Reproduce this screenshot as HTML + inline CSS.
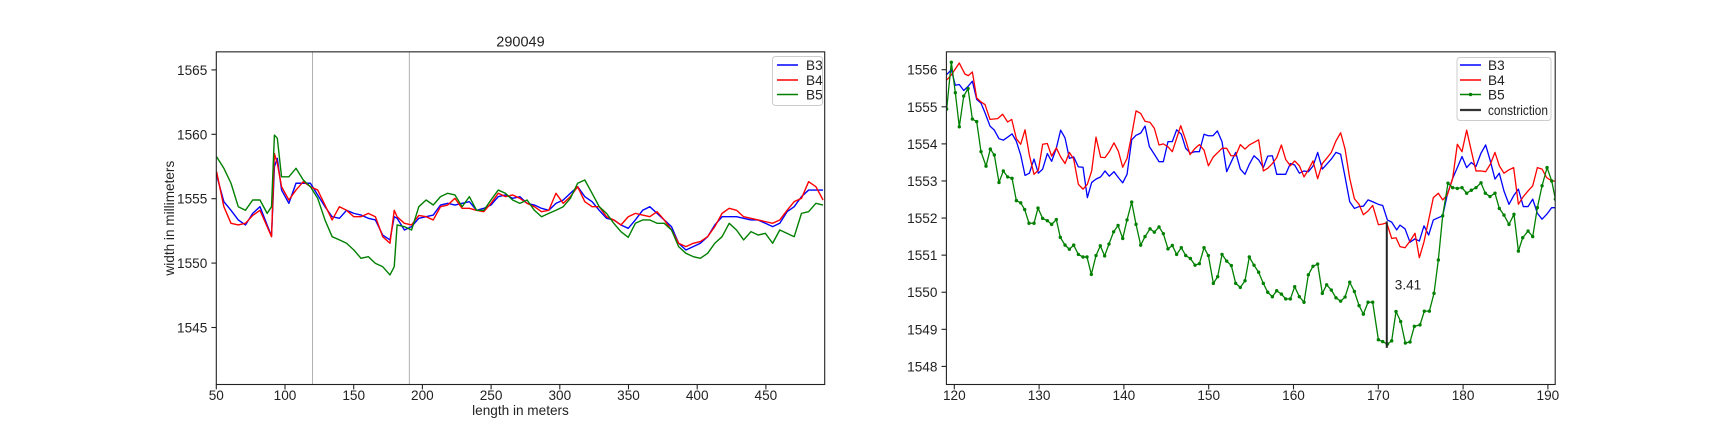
<!DOCTYPE html>
<html>
<head>
<meta charset="utf-8">
<style>
html,body{margin:0;padding:0;background:#fff;}
svg{display:block;}
text{font-family:"Liberation Sans","DejaVu Sans",sans-serif;fill:#222;}
</style>
</head>
<body>
<svg id="fig" width="1728" height="432" viewBox="0 0 1728 432" xmlns="http://www.w3.org/2000/svg">
<rect x="0" y="0" width="1728" height="432" fill="#fff"/>
</svg>
<script>
// ---------- LEFT CHART DATA ----------
const leftX = [50.2,55.5,60.7,66.0,71.2,76.5,81.8,87.0,90.2,92.3,94.4,97.5,102.8,108.0,113.3,118.5,123.8,129.1,134.3,139.6,144.8,150.1,155.3,160.6,165.8,171.1,176.4,179.5,181.6,186.9,192.1,197.4,202.7,207.9,213.2,218.4,223.7,228.9,234.2,239.4,244.7,249.9,255.2,260.4,265.7,270.9,276.2,281.5,286.7,292.0,297.2,302.5,307.7,313.0,318.2,323.5,328.7,334.0,339.3,344.5,349.8,355.0,360.3,365.5,370.8,376.0,381.3,386.5,391.8,397.1,402.3,407.6,412.8,418.1,423.3,428.6,433.8,439.1,444.3,449.6,454.9,460.1,465.4,470.6,475.9,481.1,486.4,491.6];
const leftB3 = [1556.84,1554.77,1554.1,1553.35,1552.96,1553.86,1554.38,1552.96,1552.1,1557.49,1558.13,1555.67,1554.64,1556.2,1556.2,1556.2,1555.29,1554.38,1553.6,1553.48,1554.1,1553.86,1553.73,1553.48,1553.35,1552.18,1551.8,1553.6,1553.48,1552.57,1552.83,1553.48,1553.6,1553.73,1554.51,1554.64,1554.51,1554.64,1554.77,1554.1,1554.25,1554.51,1555.16,1555.29,1555.03,1555.16,1554.64,1554.51,1554.25,1554.1,1554.64,1554.9,1555.42,1555.93,1555.16,1554.77,1554.1,1553.48,1553.35,1552.96,1552.7,1553.35,1554.1,1554.38,1553.86,1553.35,1552.83,1551.54,1551.02,1551.28,1551.54,1552.05,1552.96,1553.6,1553.6,1553.6,1553.48,1553.35,1553.35,1553.09,1552.83,1553.09,1553.99,1554.38,1555.16,1555.67,1555.67,1555.67];
const leftB4 = [1557.1,1554.38,1553.09,1552.96,1553.09,1553.7,1554.1,1552.83,1552.05,1558.5,1557.75,1555.93,1554.9,1555.67,1556.32,1555.93,1555.67,1554.51,1553.35,1554.38,1554.1,1553.6,1553.6,1553.86,1553.6,1552.05,1551.54,1554.1,1553.6,1553.09,1552.96,1553.7,1553.6,1553.35,1554.38,1554.51,1555.03,1554.25,1554.25,1554.1,1553.99,1554.64,1555.42,1555.16,1555.29,1555.03,1554.64,1554.38,1553.99,1554.1,1555.42,1554.64,1555.16,1555.93,1554.77,1554.38,1554.38,1553.6,1553.35,1552.96,1553.6,1553.86,1553.73,1553.6,1553.99,1553.35,1552.57,1551.54,1551.28,1551.54,1551.67,1552.05,1552.83,1553.86,1554.25,1554.1,1553.6,1553.48,1553.35,1553.22,1553.09,1553.35,1554.1,1554.77,1555.03,1556.32,1555.93,1554.9];
const leftB5 = [1558.26,1557.36,1556.2,1554.38,1554.1,1554.9,1554.9,1553.86,1554.38,1559.94,1559.69,1556.7,1556.7,1557.36,1556.45,1555.93,1555.03,1553.35,1552.05,1551.8,1551.54,1551.02,1550.37,1550.5,1549.98,1549.72,1549.08,1549.72,1552.96,1552.83,1552.57,1554.38,1554.9,1554.51,1555.16,1555.42,1555.29,1554.38,1555.16,1554.1,1554.1,1554.9,1555.67,1555.42,1554.9,1554.64,1554.9,1554.1,1553.6,1553.86,1554.1,1554.38,1555.03,1556.2,1556.45,1555.42,1554.38,1553.86,1553.09,1552.44,1552.0,1553.09,1553.35,1553.35,1553.09,1553.09,1552.57,1551.28,1550.76,1550.5,1550.37,1550.76,1551.54,1552.05,1553.09,1552.57,1551.8,1552.44,1552.18,1552.31,1551.54,1552.57,1552.31,1552.05,1553.86,1553.99,1554.64,1554.51];
const leftXTicks = [50,100,150,200,250,300,350,400,450];
const leftYTicks = [1545,1550,1555,1560,1565];
const leftVLines = [120,190.5];

// ---------- RIGHT CHART DATA ----------
const rightB3X = [119.10,119.65,120.12,120.59,121.11,121.62,122.13,122.64,123.15,123.62,124.21,124.72,125.27,125.78,126.29,126.81,127.32,127.83,128.34,128.85,129.40,129.91,130.42,130.97,131.48,132.03,132.54,133.06,133.57,134.08,134.63,135.18,135.69,136.20,136.71,137.26,137.77,138.28,138.83,139.35,139.86,140.37,140.92,141.43,141.98,
142.49,143.00,143.59,144.14,144.65,145.20,145.71,146.22,146.77,147.29,147.84,148.39,148.90,149.45,149.96,150.51,151.02,151.57,152.12,152.67,153.18,153.73,154.28,154.79,155.34,155.89,156.44,156.96,157.51,158.02,158.57,159.08,159.63,160.14,160.69,161.24,161.75,162.30,162.85,163.40,163.91,164.46,165.01,165.56,166.08,166.63,167.18,167.73,168.24,168.79,169.34,170.01,170.52,171.07,171.58,172.17,
172.56,173.15,173.74,174.33,174.84,175.39,175.94,176.49,177.08,177.59,178.14,178.77,179.32,179.87,180.42,180.97,181.52,182.11,182.66,183.21,183.76,184.27,184.82,185.41,185.96,186.52,187.10,187.66,188.21,188.76,189.31,189.86,190.45,190.88];
const rightB3 = [1555.87,1556.0,1555.58,1555.6,1555.44,1555.55,1555.69,1555.2,1555.1,1554.84,1554.48,1554.37,1554.14,1554.1,1554.18,1554.27,1554.07,1553.70,1553.15,1553.21,1553.59,1553.21,1553.32,1553.74,1553.53,1553.88,1554.37,1554.16,1553.61,1553.65,1553.38,1553.37,1552.55,1552.96,1553.05,1553.11,1553.27,1553.13,1553.25,1553.09,1552.95,1553.18,1554.11,1554.23,1554.29,
1554.48,1553.93,1553.72,1553.52,1553.52,1554.06,1554.06,1554.38,1554.26,1553.88,1553.75,1553.79,1553.79,1554.26,1554.22,1554.22,1554.35,1554.06,1553.25,1553.52,1553.77,1553.32,1553.18,1553.45,1553.68,1553.57,1553.36,1553.67,1553.68,1553.18,1553.18,1553.18,1553.47,1553.43,1553.21,1553.27,1553.25,1553.4,1553.77,1553.32,1553.45,1553.59,1553.77,1553.72,1553.11,1552.44,1552.26,1552.31,1552.32,1552.49,1552.44,1552.37,1552.34,1551.95,1551.89,1551.68,
1551.81,1551.71,1551.35,1551.44,1551.38,1551.79,1551.54,1551.95,1552.01,1552.06,1552.64,1553.07,1553.36,1553.66,1553.36,1553.5,1553.39,1553.75,1553.97,1553.54,1553.05,1553.21,1552.73,1552.37,1552.6,1552.78,1552.31,1552.31,1552.51,1552.13,1551.97,1552.1,1552.28,1552.28];
const rightB4X = [119.10,119.65,120.59,121.26,121.66,122.13,122.64,123.15,123.62,124.21,125.11,125.70,126.29,126.77,127.32,127.83,128.34,128.85,129.40,129.91,130.42,130.97,131.48,132.03,132.54,133.06,133.57,134.08,134.63,135.18,135.69,136.20,136.71,137.26,137.77,138.28,138.83,139.35,139.86,140.37,140.92,141.43,141.98,
142.49,143.08,143.59,144.14,144.65,145.20,145.71,146.70,147.29,147.80,148.39,148.90,149.45,149.96,150.55,151.57,152.12,152.63,153.18,153.73,154.28,154.79,155.34,155.89,156.44,156.96,157.51,158.02,158.57,159.08,159.63,160.14,160.69,161.24,161.75,162.30,162.85,163.40,163.91,164.46,165.01,165.56,166.08,166.63,167.18,167.73,168.24,168.79,169.34,170.01,170.52,170.99,171.58,172.09,
172.56,173.15,173.74,174.33,174.84,175.39,175.94,176.49,177.08,177.59,178.14,178.77,179.32,179.87,180.42,180.97,181.52,182.11,182.66,183.21,183.76,184.27,184.82,185.41,185.96,186.52,187.10,187.66,188.21,188.76,189.31,189.86,190.45,190.88];
const rightB4 = [1555.72,1555.86,1556.18,1555.88,1555.84,1555.94,1555.24,1555.13,1555.06,1554.66,1554.68,1554.8,1554.59,1554.66,1554.14,1553.99,1554.38,1553.70,1553.18,1553.29,1553.99,1554.01,1553.67,1553.89,1553.65,1553.47,1553.77,1553.59,1552.91,1552.78,1552.91,1553.27,1554.18,1553.64,1553.63,1553.79,1554.03,1553.80,1553.37,1553.61,1554.24,1554.89,1554.82,
1554.61,1554.58,1554.42,1553.97,1554.0,1553.92,1553.79,1554.49,1554.1,1553.71,1553.88,1553.98,1553.83,1553.41,1553.65,1553.88,1553.88,1553.68,1553.68,1553.98,1553.86,1553.97,1554.04,1554.11,1553.27,1553.34,1553.47,1553.63,1553.97,1553.58,1553.41,1553.54,1553.41,1553.11,1553.3,1553.54,1553.06,1553.47,1553.61,1553.77,1554.08,1554.3,1553.86,1553.07,1552.52,1552.37,1552.09,1552.19,1552.34,1551.82,1551.84,1551.87,1551.45,1551.47,
1551.23,1551.2,1551.38,1551.59,1550.93,1551.36,1551.95,1552.55,1552.67,1552.49,1552.62,1553.07,1553.99,1553.79,1554.37,1553.81,1553.27,1553.27,1553.25,1553.45,1553.77,1553.41,1553.21,1553.3,1553.36,1552.37,1552.58,1552.73,1552.87,1553.36,1553.32,1553.09,1553.0,1553.0];
const rightB5X = [119.10,119.65,120.12,120.59,121.11,121.62,122.13,122.64,123.15,123.74,124.25,124.72,125.27,125.78,126.29,126.81,127.32,127.83,128.30,128.81,129.40,129.87,130.42,130.97,131.48,132.03,132.50,133.06,133.57,134.08,134.63,135.18,135.65,136.16,136.71,137.22,137.73,138.24,138.79,139.31,139.86,140.37,140.92,141.43,141.98,
142.49,143.08,143.59,144.14,144.65,145.20,145.71,146.22,146.77,147.29,147.84,148.39,148.90,149.45,149.96,150.55,151.06,151.57,152.12,152.67,153.18,153.73,154.28,154.79,155.34,155.89,156.44,156.96,157.51,158.02,158.57,159.08,159.63,160.14,160.69,161.24,161.75,162.30,162.85,163.40,163.91,164.46,165.01,165.56,166.08,166.63,167.18,167.73,168.24,168.79,169.34,170.01,170.52,171.07,171.58,172.09,172.64,173.19,173.74,174.25,
174.92,175.43,176.02,176.57,177.08,177.59,178.22,178.77,179.32,179.87,180.42,180.97,181.52,182.11,182.62,183.17,183.76,184.27,184.82,185.41,186.00,186.52,187.03,187.66,188.21,188.76,189.31,189.90,190.45,190.88];
const rightB5 = [1554.94,1556.2,1555.38,1554.46,1555.29,1555.49,1554.67,1554.6,1553.79,1553.40,1553.86,1553.70,1552.96,1553.27,1553.11,1553.07,1552.47,1552.41,1552.23,1551.86,1551.86,1552.27,1551.99,1551.93,1551.83,1551.96,1551.48,1551.27,1551.16,1551.27,1551.02,1550.95,1550.95,1550.48,1550.99,1551.25,1550.98,1551.30,1551.63,1551.80,1551.45,1551.95,1552.43,1551.83,1551.27,
1551.5,1551.71,1551.62,1551.76,1551.58,1551.17,1551.26,1551.02,1551.2,1550.99,1550.91,1550.73,1550.77,1551.2,1550.99,1550.24,1550.42,1551.02,1550.84,1550.72,1550.24,1550.13,1550.31,1550.95,1550.73,1550.54,1550.24,1550.0,1549.88,1550.04,1549.95,1549.82,1549.82,1550.15,1549.88,1549.73,1550.47,1550.7,1550.76,1549.97,1550.2,1550.06,1549.85,1549.76,1549.87,1550.27,1550.02,1549.64,1549.41,1549.73,1549.73,1548.72,1548.67,1548.6,1548.69,1549.48,1549.21,1548.63,1548.66,1549.08,
1549.12,1549.49,1549.49,1549.97,1550.87,1552.06,1552.94,1552.82,1552.8,1552.82,1552.67,1552.75,1552.82,1552.95,1552.67,1552.58,1552.67,1552.26,1552.08,1551.83,1552.1,1551.11,1551.47,1551.65,1551.5,1552.28,1552.87,1553.36,1553.0,1552.51];
const rightXTicks = [120,130,140,150,160,170,180,190];
const rightYTicks = [1548,1549,1550,1551,1552,1553,1554,1555,1556];
const constrictionX = [171.0];
const constrictionLow = [1548.5];
const constrictionHigh = [1551.91];
const constrictionLabel = ["3.41"];

// ---------- RENDERING ----------
const NS = "http://www.w3.org/2000/svg";
const svg = document.getElementById('fig');
function mk(tag, attrs, parent) {
  const e = document.createElementNS(NS, tag);
  for (const k in attrs) e.setAttribute(k, attrs[k]);
  (parent || svg).appendChild(e);
  return e;
}
function lin(d0, d1, p0, p1) { return v => p0 + (v - d0) * (p1 - p0) / (d1 - d0); }

const TOP = 51.84, BOT = 384.5;
const FS = 13.6;
const LX0 = 216.3, LX1 = 824.7;
const lx = lin(50, 100, 216.3, 285.0);
const ly = lin(1560, 1555, 134.3, 198.7);
const RX0 = 946.4, RX1 = 1555.2;
const rx = lin(120, 130, 954.3, 1039.1);
const ry = lin(1556, 1555, 69.7, 106.79);

function clip(id, x0, x1) {
  let defs = svg.querySelector('defs');
  if (!defs) defs = mk('defs', {});
  const cp = mk('clipPath', {id: id}, defs);
  mk('rect', {x: x0, y: TOP, width: x1 - x0, height: BOT - TOP}, cp);
}
clip('clipL', LX0, LX1);
clip('clipR', RX0, RX1);

function pathFrom(xs, ys, fx, fy) {
  let d = '';
  for (let i = 0; i < xs.length && i < ys.length; i++) {
    d += (i ? 'L' : 'M') + fx(xs[i]).toFixed(2) + ',' + fy(ys[i]).toFixed(2);
  }
  return d;
}

function drawAxes(prefix, x0, x1, fx, fy, xt, yt) {
  const g = mk('g', {});
  
  
  xt.forEach(t => {
    const x = fx(t);
    const tk = mk('line', {x1: x, x2: x, y1: BOT, y2: BOT + 4.9, stroke: '#222', 'stroke-width': 1.1}, g);
    
    
    const tl = mk('text', {x: x, y: BOT + 15.5, 'font-size': FS, 'text-anchor': 'middle'}, g);
    tl.textContent = String(t);
    
    
  });
  yt.forEach(t => {
    const y = fy(t);
    const tk = mk('line', {x1: x0 - 4.9, x2: x0, y1: y, y2: y, stroke: '#222', 'stroke-width': 1.1}, g);
    
    
    const tl = mk('text', {x: x0 - 9, y: y + 5, 'font-size': FS, 'text-anchor': 'end'}, g);
    tl.textContent = String(t);
    
    
  });
  return g;
}

function frame(prefix, x0, x1) {
  const f = mk('rect', {x: x0, y: TOP, width: x1 - x0, height: BOT - TOP, fill: 'none', stroke: '#222', 'stroke-width': 1.1});
  
  
}

// ---- left chart ----
drawAxes('left', LX0, LX1, lx, ly, leftXTicks, leftYTicks);
leftVLines.forEach(v => {
  const l = mk('line', {x1: lx(v), x2: lx(v), y1: TOP, y2: BOT, stroke: '#b0b0b0', 'stroke-width': 1});
  
  
});
const gL = mk('g', {'clip-path': 'url(#clipL)'});


[['b3', leftB3, '#0000ff'], ['b4', leftB4, '#ff0000'], ['b5', leftB5, '#008000']].forEach(s => {
  const p = mk('path', {d: pathFrom(leftX, s[1], lx, ly), fill: 'none', stroke: s[2], 'stroke-width': 1.4, 'stroke-linejoin': 'round'}, gL);
  
  
});
frame('left', LX0, LX1);

const title = mk('text', {x: (LX0 + LX1) / 2, y: 46.5, 'font-size': 14.5, 'text-anchor': 'middle'});
title.textContent = '290049';


const xlab = mk('text', {x: (LX0 + LX1) / 2, y: 415, 'font-size': FS, 'text-anchor': 'middle'});
xlab.textContent = 'length in meters';


const ylab = mk('text', {x: 0, y: 0, 'font-size': FS, 'text-anchor': 'middle', transform: 'translate(174,' + ((TOP + BOT) / 2) + ') rotate(-90)'});
ylab.textContent = 'width in millimeters';



// left legend
const legL = mk('g', {});


mk('rect', {x: 772.5, y: 56.5, width: 50, height: 49, rx: 3, fill: '#fff', 'fill-opacity': 0.8, stroke: '#ccc', 'stroke-width': 1}, legL);
[['B3', '#0000ff', 65], ['B4', '#ff0000', 80], ['B5', '#008000', 94.5]].forEach(e => {
  const it = mk('g', {}, legL);
  
  
  mk('line', {x1: 777, x2: 798, y1: e[2], y2: e[2], stroke: e[1], 'stroke-width': 1.4}, it);
  const t = mk('text', {x: 806, y: e[2] + 5, 'font-size': FS}, it);
  t.textContent = e[0];
});

// ---- right chart ----
drawAxes('right', RX0, RX1, rx, ry, rightXTicks, rightYTicks);
const gR = mk('g', {'clip-path': 'url(#clipR)'});


const pB3 = mk('path', {d: pathFrom(rightB3X, rightB3, rx, ry), fill: 'none', stroke: '#0000ff', 'stroke-width': 1.3, 'stroke-linejoin': 'round'}, gR);


const pB4 = mk('path', {d: pathFrom(rightB4X, rightB4, rx, ry), fill: 'none', stroke: '#ff0000', 'stroke-width': 1.3, 'stroke-linejoin': 'round'}, gR);


const pB5 = mk('path', {d: pathFrom(rightB5X, rightB5, rx, ry), fill: 'none', stroke: '#008000', 'stroke-width': 1.3, 'stroke-linejoin': 'round'}, gR);


for (let i = 0; i < rightB5X.length; i++) {
  const c = mk('circle', {cx: rx(rightB5X[i]), cy: ry(rightB5[i]), r: 1.7, fill: '#008000'}, gR);
  
  
}
constrictionX.forEach((cx, i) => {
  const l = mk('line', {x1: rx(cx), x2: rx(cx), y1: ry(constrictionLow[i]), y2: ry(constrictionHigh[i]), stroke: '#222', 'stroke-width': 2}, gR);
  
  
  const t = mk('text', {x: rx(cx) + 8, y: ry((constrictionLow[i] + constrictionHigh[i]) / 2) + 5, 'font-size': FS});
  t.textContent = constrictionLabel[i];
  
  
});
frame('right', RX0, RX1);

// right legend
const legR = mk('g', {});


mk('rect', {x: 1457, y: 57.5, width: 94, height: 63, rx: 3, fill: '#fff', 'fill-opacity': 0.8, stroke: '#ccc', 'stroke-width': 1}, legR);
[['B3', '#0000ff', 65, 1.4], ['B4', '#ff0000', 80, 1.4], ['B5', '#008000', 94.5, 1.4], ['constriction', '#333', 110, 2.2]].forEach(e => {
  const it = mk('g', {}, legR);
  
  
  mk('line', {x1: 1460, x2: 1481, y1: e[2], y2: e[2], stroke: e[1], 'stroke-width': e[3]}, it);
  if (e[0] === 'B5') mk('circle', {cx: 1470.5, cy: e[2], r: 1.7, fill: e[1]}, it);
  const attrs = {x: 1488, y: e[2] + 5, 'font-size': FS};
  if (e[0] === 'constriction') { attrs.textLength = 60; attrs.lengthAdjust = 'spacingAndGlyphs'; }
  const t = mk('text', attrs, it);
  t.textContent = e[0];
});
</script>
</body>
</html>
